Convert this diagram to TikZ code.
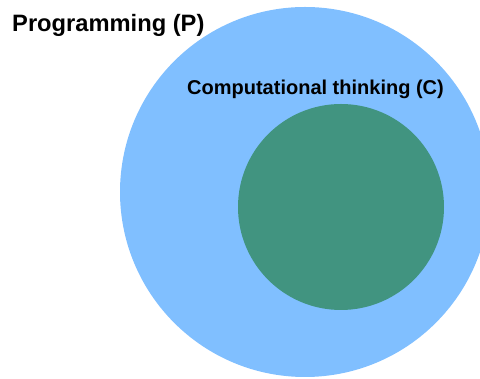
\documentclass[tikz,border=0pt]{standalone}
\usepackage{fontspec}
\setmainfont{Liberation Sans}
\usepackage{tikz}
\usetikzlibrary{calc}

\definecolor{progblue}{HTML}{80BFFF}
\definecolor{ctgreen}{HTML}{419480}

\begin{document}
\begin{tikzpicture}[x=1pt,y=1pt]
           \useasboundingbox (0,0) rectangle (480,379);
           \clip (0,0) rectangle (480,379);
           \node[circle,fill=progblue,draw=none,inner sep=0pt,minimum size=370pt] (prog) at (305,187) {};
           \node[circle,fill=ctgreen,draw=none,inner sep=0pt,minimum size=206pt] (comp) at (341,172) {};
           \node[anchor=base west,inner sep=0pt,font=\fontsize{23.7}{26}\bfseries] (progtext) at (12,347.3) {Programming (P)};
           \node[anchor=base west,inner sep=0pt,font=\fontsize{20}{22}\bfseries] (comptext) at (187,284) {Computational thinking (C)};
        \end{tikzpicture}
\end{document}
